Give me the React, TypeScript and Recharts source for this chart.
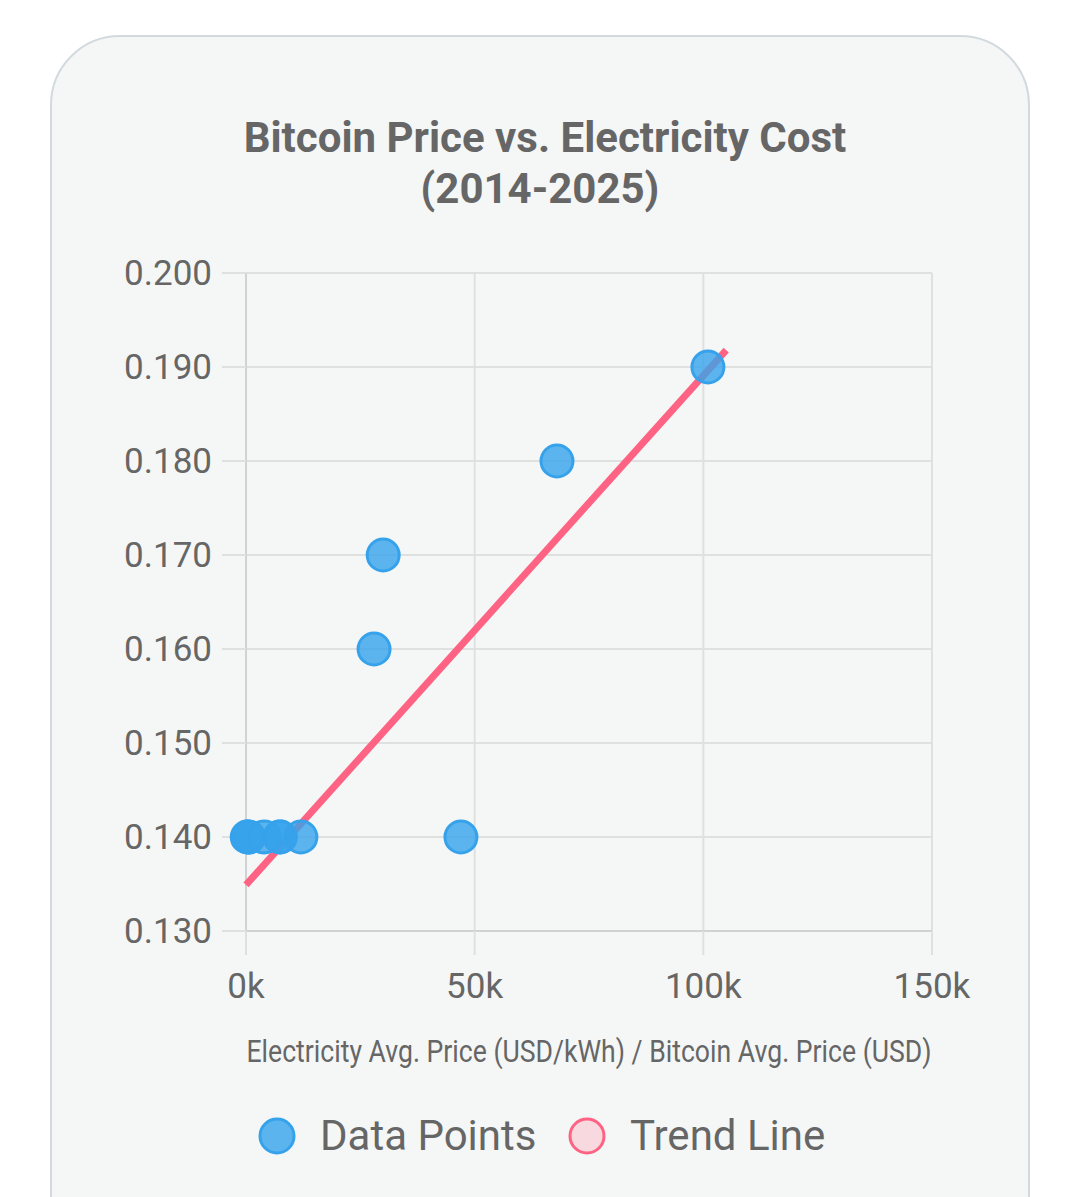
import React from 'react';
import { ScatterChart, Scatter, XAxis, YAxis, CartesianGrid } from 'recharts';

// yearly averages 2014-2025
const btcPrices = [530, 270, 570, 4000, 7500, 7400, 12000, 47000, 28000, 30000, 68000, 101000];
const elecPrices = [0.14, 0.14, 0.14, 0.14, 0.14, 0.14, 0.14, 0.14, 0.16, 0.17, 0.18, 0.19];
const trendX = [0, 105000];
const trendY = [0.1349, 0.1918];
const xTicks = [0, 50000, 100000, 150000];
const yTicks = [0.13, 0.14, 0.15, 0.16, 0.17, 0.18, 0.19, 0.2];

const points = btcPrices.map((x, i) => ({ x, y: elecPrices[i] }));
const trend = trendX.map((x, i) => ({ x, y: trendY[i] }));

const FONT = 'Roboto, "Noto Sans", sans-serif';
const TEXT = '#666';
const GRID = '#dfe1e1';

const noShape = () => <g />;

const AxisTitle = () => (
  <text
    x={589}
    y={1062}
    textAnchor="middle"
    fill={TEXT}
    fontSize={32}
    fontFamily={FONT}
    textLength={685}
    lengthAdjust="spacingAndGlyphs"
  >
    Electricity Avg. Price (USD/kWh) / Bitcoin Avg. Price (USD)
  </text>
);

export default function App() {
  return (
    <div style={{ position: 'absolute', left: 0, top: 0, width: 1080, height: 1197, background: '#fff', overflow: 'hidden' }}>
      <div
        style={{
          position: 'absolute',
          left: 50,
          top: 35,
          width: 976,
          height: 1300,
          border: '2px solid #d3dadd',
          borderRadius: 70,
          background: '#f5f7f7',
        }}
      />
      <div style={{ position: 'absolute', left: 0, top: 0 }}>
        <ScatterChart width={1080} height={1197} margin={{ top: 273, right: 148, bottom: 206, left: 0 }}>
          <text x={545} y={152} textAnchor="middle" fill={TEXT} fontSize={42} fontWeight="bold" fontFamily={FONT}>
            Bitcoin Price vs. Electricity Cost
          </text>
          <text x={540} y={203} textAnchor="middle" fill={TEXT} fontSize={42} fontWeight="bold" fontFamily={FONT}>
            (2014-2025)
          </text>
          <CartesianGrid stroke={GRID} strokeWidth={2} />
          <XAxis
            type="number"
            dataKey="x"
            domain={[0, 150000]}
            ticks={xTicks}
            tickFormatter={(v: number) => `${v / 1000}k`}
            height={60}
            tickSize={24}
            tickMargin={18}
            axisLine={{ stroke: '#d0d3d3', strokeWidth: 2 }}
            tickLine={{ stroke: GRID, strokeWidth: 2 }}
            tick={{ fill: TEXT, fontSize: 35, fontFamily: FONT }}
          />
          <YAxis
            type="number"
            dataKey="y"
            domain={[0.13, 0.2]}
            ticks={yTicks}
            tickFormatter={(v: number) => v.toFixed(3)}
            width={246}
            tickSize={24}
            tickMargin={10}
            axisLine={{ stroke: '#d0d3d3', strokeWidth: 2 }}
            tickLine={{ stroke: GRID, strokeWidth: 2 }}
            tick={{ fill: TEXT, fontSize: 35, fontFamily: FONT }}
          />
          <Scatter
            name="Trend Line"
            data={trend}
            line={{ stroke: '#ff6384', strokeWidth: 7 }}
            shape={noShape}
            isAnimationActive={false}
          />
          <Scatter
            name="Data Points"
            data={points}
            isAnimationActive={false}
            shape={(p: any) => (
              <circle cx={p.cx} cy={p.cy} r={16} fill="rgba(54,162,235,0.8)" stroke="#36a2eb" strokeWidth={3} />
            )}
          />
          <AxisTitle />
          <g fontFamily={FONT} fontSize={42} fill={TEXT}>
            <circle cx={277} cy={1136} r={17} fill="rgba(54,162,235,0.8)" stroke="#36a2eb" strokeWidth={3} />
            <text x={320} y={1150}>Data Points</text>
            <circle cx={587} cy={1136} r={17} fill="rgba(255,99,132,0.2)" stroke="#ff6384" strokeWidth={3} />
            <text x={630} y={1150}>Trend Line</text>
          </g>
        </ScatterChart>
      </div>
    </div>
  );
}
